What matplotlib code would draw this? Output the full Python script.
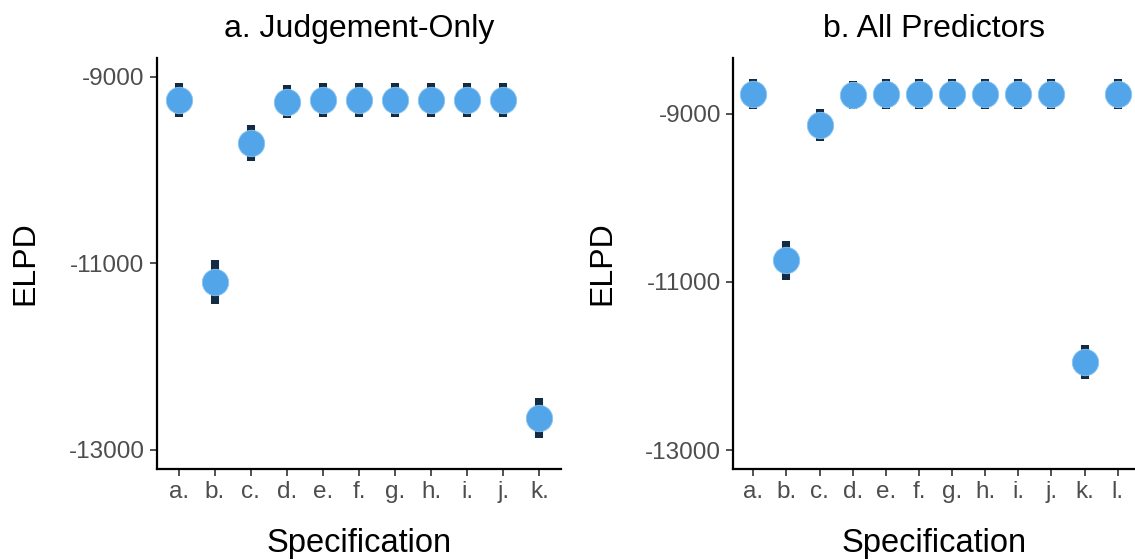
import matplotlib
matplotlib.use("Agg")
import matplotlib.pyplot as plt

plt.rcParams["font.family"] = ["Liberation Sans", "DejaVu Sans"]

# ELPD estimates and standard errors per model specification
specs_a = ["a.", "b.", "c.", "d.", "e.", "f.", "g.", "h.", "i.", "j.", "k."]
elpd_a = [-9251, -11204, -9708, -9269, -9251, -9251, -9251, -9251, -9251, -9251, -12655]
se_a = [185, 234, 193, 179, 185, 185, 185, 185, 185, 185, 214]

specs_b = ["a.", "b.", "c.", "d.", "e.", "f.", "g.", "h.", "i.", "j.", "k.", "l."]
elpd_b = [-8763, -10742, -9136, -8778, -8763, -8763, -8763, -8763, -8763, -8763, -11954, -8763]
se_b = [175, 229, 189, 169, 175, 175, 175, 175, 175, 175, 204, 175]

yticks = [-9000, -11000, -13000]

POINT_COLOR = "#53A5EA"
BAR_COLOR = "#132B43"
W, H = 1135, 560

fig = plt.figure(figsize=(W / 100, H / 100), dpi=100)


def panel(rect, specs, elpd, se, title, xlim, ylim):
    ax = fig.add_axes(rect)
    x = list(range(1, len(specs) + 1))
    ax.errorbar(x, elpd, yerr=se, fmt="none", ecolor=BAR_COLOR,
                elinewidth=5.8, capsize=0, zorder=2)
    ax.plot(x, elpd, "o", color=POINT_COLOR, markersize=19,
            markeredgecolor="#8cc6f0", markeredgewidth=0.6, zorder=3)
    ax.set_xlim(*xlim)
    ax.set_ylim(*ylim)
    ax.set_xticks(x)
    ax.set_xticklabels(specs)
    ax.set_yticks(yticks)
    ax.set_yticklabels([str(v) for v in yticks])
    for side in ("top", "right"):
        ax.spines[side].set_visible(False)
    for side in ("left", "bottom"):
        ax.spines[side].set_linewidth(1.6)
        ax.spines[side].set_color("black")
    ax.tick_params(axis="both", length=5, width=1.2, color="#333333",
                   labelsize=17.5, labelcolor="#4D4D4D", pad=4)
    ax.set_title(title, fontsize=23, pad=15)
    ax.set_xlabel("Specification", fontsize=23.5, labelpad=18)
    ax.set_ylabel("ELPD", fontsize=23, labelpad=20)
    return ax


top, bottom = 58, 468.5
panel([157 / W, 1 - bottom / H, (561 - 157) / W, (bottom - top) / H],
      specs_a, elpd_a, se_a, "a. Judgement-Only", (0.4, 11.6), (-13201, -8801))
panel([733.4 / W, 1 - bottom / H, (W - 733.4) / W, (bottom - top) / H],
      specs_b, elpd_b, se_b, "b. All Predictors", (0.4, 12.52), (-13218, -8337))

fig.savefig("out.png", dpi=100)
